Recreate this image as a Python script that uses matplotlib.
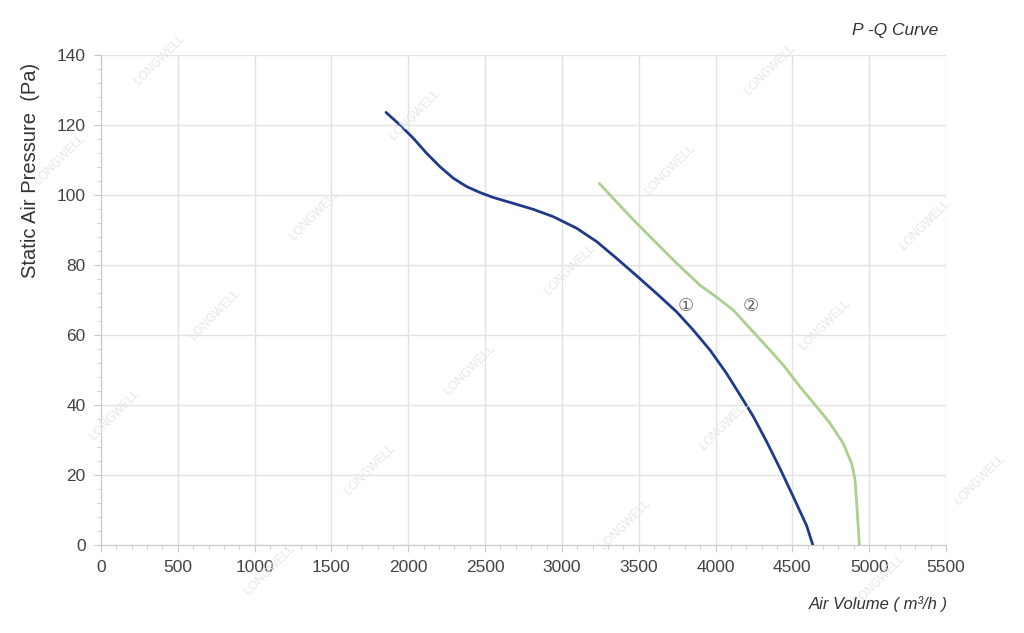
"""P-Q curve of a fan: static pressure against air volume."""
import matplotlib
matplotlib.use("Agg")
from matplotlib import pyplot as plt
from matplotlib.ticker import MultipleLocator

# curve 1 (dark blue)
q1 = [1855, 1946, 2033, 2120, 2206, 2293, 2380, 2467, 2553, 2684, 2814, 2944,
      3096, 3226, 3356, 3487, 3638, 3747, 3855, 3964, 4072, 4159, 4246, 4333,
      4419, 4506, 4593, 4633]
p1 = [123.6, 120.0, 116.2, 111.9, 108.1, 104.8, 102.4, 100.7, 99.3, 97.6, 95.9,
      93.8, 90.5, 86.7, 81.9, 76.9, 71.0, 66.6, 61.4, 55.7, 49.0, 42.9, 36.7,
      29.5, 21.9, 13.8, 5.5, 0.0]

# curve 2 (light green)
q2 = [3243, 3465, 3747, 3899, 4007, 4116, 4224, 4333, 4441, 4550, 4658, 4745,
      4831, 4886, 4908, 4923, 4936]
p2 = [103.3, 92.9, 80.5, 74.2, 70.8, 67.1, 61.9, 56.7, 51.4, 45.2, 39.5, 34.8,
      29.0, 23.3, 18.6, 9.0, 0.0]

curve_labels = ["\u2460", "\u2461"]
label_q = [3808, 4228]
label_p = [68.4, 68.4]

x_ticks = list(range(0, 5501, 500))
y_ticks = list(range(0, 141, 20))

plt.rcParams["font.family"] = ["Liberation Sans", "DejaVu Sans"]

fig = plt.figure(figsize=(10.24, 6.33), dpi=100)
ax = fig.add_axes([101 / 1024, 1 - 545 / 633, 845 / 1024, 490 / 633])

# faint "LONGWELL" watermark, in diagonal rows
for c in range(-400, 1700, 310):
    for s in range(-900, 900, 200):
        px = (c + s) / 2
        py = (c - s) / 2
        if 35 < px < 990 and 35 < py < 600:
            fig.text(px / 1024, 1 - py / 633, "LONGWELL", rotation=45,
                     ha="center", va="center", fontsize=8.5, color="#e6e6e6",
                     zorder=0)

ax.patch.set_alpha(0)
ax.plot(q1, p1, color="#1f3a8a", lw=2.0, zorder=3,
        solid_joinstyle="round", solid_capstyle="round")
ax.plot(q2, p2, color="#a9d08e", lw=2.0, zorder=3,
        solid_joinstyle="round", solid_capstyle="round")
for lab, xq, yp in zip(curve_labels, label_q, label_p):
    ax.text(xq, yp, lab, ha="center", va="center", fontsize=13,
            color="#6a6a6a", family=["DejaVu Sans"], zorder=4)

ax.set_xlim(0, 5500)
ax.set_ylim(0, 140)
ax.set_xticks(x_ticks)
ax.set_yticks(y_ticks)
ax.xaxis.set_minor_locator(MultipleLocator(100))
ax.yaxis.set_minor_locator(MultipleLocator(4))
ax.grid(True, which="major", color="#e2e2e2", lw=1.0, zorder=0)
ax.tick_params(which="major", length=5, color="#c8c8c8", labelsize=12.5,
               labelcolor="#444444", pad=6)
ax.tick_params(which="minor", length=3, color="#c8c8c8")
for side in ["top", "right"]:
    ax.spines[side].set_visible(False)
for side in ["left", "bottom"]:
    ax.spines[side].set_color("#c8c8c8")

ax.set_ylabel("Static Air Pressure  (Pa)", fontsize=14.5, color="#333333")
ax.yaxis.set_label_coords(-0.072, 0.765)
fig.text(948 / 1024, 1 - 604 / 633, "Air Volume ( m\u00b3/h )", ha="right",
         va="center", fontsize=12, style="italic", color="#333333")
fig.text(938 / 1024, 1 - 31 / 633, "P -Q Curve", ha="right", va="center",
         fontsize=12.5, style="italic", color="#333333")

fig.savefig("out.png", dpi=100)
plt.close(fig)
